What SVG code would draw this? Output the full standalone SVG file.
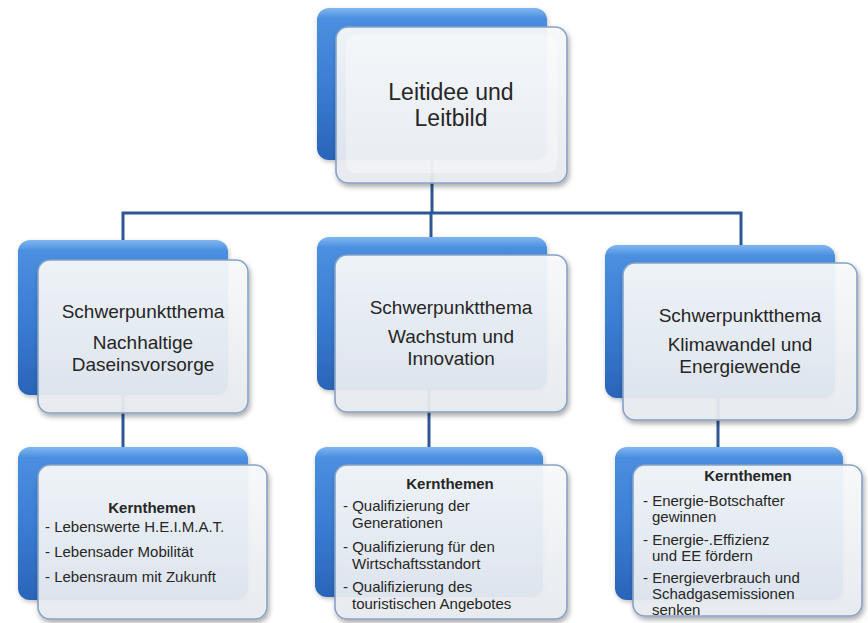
<svg xmlns="http://www.w3.org/2000/svg" width="868" height="623" viewBox="0 0 868 623">
<defs>
<linearGradient id="blue" x1="0" y1="0" x2="0" y2="1">
<stop offset="0" stop-color="#7fb6f0"/>
<stop offset="0.07" stop-color="#4b8fe0"/>
<stop offset="0.5" stop-color="#3a7ed4"/>
<stop offset="1" stop-color="#2a64b8"/>
</linearGradient>
<linearGradient id="white" x1="0" y1="0" x2="0" y2="1">
<stop offset="0" stop-color="#fafbfc"/>
<stop offset="1" stop-color="#e8ecf1"/>
</linearGradient>
<filter id="sh" x="-10%" y="-10%" width="125%" height="125%">
<feDropShadow dx="1.5" dy="3" stdDeviation="2.5" flood-color="#000" flood-opacity="0.35"/>
</filter>
<filter id="sh2" x="-10%" y="-10%" width="125%" height="125%">
<feDropShadow dx="1" dy="2" stdDeviation="2" flood-color="#000" flood-opacity="0.25"/>
</filter>
</defs>
<style>
.back{fill:url(#blue);filter:url(#sh2);}
.front{fill:url(#white);fill-opacity:0.92;stroke:#87a2c6;stroke-width:1.6;filter:url(#sh);}
.inner{fill:#ffffff;fill-opacity:0.35;}
.conn{fill:none;stroke:#2f5794;stroke-width:3;}
text{font-family:"Liberation Sans",Arial,sans-serif;fill:#262626;}
.t1{font-size:23px;text-anchor:middle;}
.t2{font-size:19px;text-anchor:middle;}
.kh{font-size:15px;font-weight:bold;text-anchor:middle;}
.li{font-size:15px;}
</style>
<rect width="868" height="623" fill="#ffffff"/>
<g id="connectors">
<path class="conn" d="M432 160 V213"/>
<path class="conn" d="M123 240 V213 H741 V245"/>
<path class="conn" d="M431 213 V237"/>
<path class="conn" d="M123 395 V447"/>
<path class="conn" d="M429 390 V447"/>
<path class="conn" d="M718 398 V447"/>
</g>
<g id="leitidee">
<rect class="back" x="317" y="8" width="230" height="152" rx="12"/>
<rect class="front" x="336" y="27" width="231" height="156" rx="12"/>
<rect class="inner" x="346" y="35" width="211" height="138" rx="10"/>
<text class="t1" x="451" y="100">Leitidee und</text>
<text class="t1" x="451" y="126">Leitbild</text>
</g>
<g id="schwerpunkt1">
<rect class="back" x="18" y="240" width="210" height="155" rx="12"/>
<rect class="front" x="38" y="260" width="210" height="153" rx="12"/>
<text class="t2" x="143" y="318">Schwerpunktthema</text>
<text class="t2" x="143" y="349">Nachhaltige</text>
<text class="t2" x="143" y="371">Daseinsvorsorge</text>
</g>
<g id="schwerpunkt2">
<rect class="back" x="317" y="237" width="230" height="153" rx="12"/>
<rect class="front" x="335" y="255" width="232" height="157" rx="12"/>
<text class="t2" x="451" y="314">Schwerpunktthema</text>
<text class="t2" x="451" y="343">Wachstum und</text>
<text class="t2" x="451" y="365">Innovation</text>
</g>
<g id="schwerpunkt3">
<rect class="back" x="605" y="245" width="230" height="153" rx="12"/>
<rect class="front" x="623" y="263" width="234" height="157" rx="12"/>
<text class="t2" x="740" y="322">Schwerpunktthema</text>
<text class="t2" x="740" y="351">Klimawandel und</text>
<text class="t2" x="740" y="373">Energiewende</text>
</g>
<g id="kern1">
<rect class="back" x="18" y="447" width="230" height="153" rx="12"/>
<rect class="front" x="38" y="465" width="229" height="154" rx="12"/>
<text class="kh" x="152" y="513">Kernthemen</text>
<text class="li" x="45" y="532">- Lebenswerte H.E.I.M.A.T.</text>
<text class="li" x="45" y="557">- Lebensader Mobilität</text>
<text class="li" x="45" y="582">- Lebensraum mit Zukunft</text>
</g>
<g id="kern2">
<rect class="back" x="315" y="447" width="228" height="150" rx="12"/>
<rect class="front" x="335" y="465" width="232" height="154" rx="12"/>
<text class="kh" x="450" y="489">Kernthemen</text>
<text class="li" x="343" y="511">- Qualifizierung der</text>
<text class="li" x="352" y="528">Generationen</text>
<text class="li" x="343" y="552">- Qualifizierung für den</text>
<text class="li" x="352" y="569">Wirtschaftsstandort</text>
<text class="li" x="343" y="592">- Qualifizierung des</text>
<text class="li" x="352" y="609">touristischen Angebotes</text>
</g>
<g id="kern3">
<rect class="back" x="615" y="447" width="228" height="153" rx="12"/>
<rect class="front" x="633" y="465" width="229" height="151" rx="12"/>
<text class="kh" x="748" y="481">Kernthemen</text>
<text class="li" x="643" y="506">- Energie-Botschafter</text>
<text class="li" x="652" y="522">gewinnen</text>
<text class="li" x="643" y="545">- Energie-.Effizienz</text>
<text class="li" x="652" y="561">und EE fördern</text>
<text class="li" x="643" y="583">- Energieverbrauch und</text>
<text class="li" x="652" y="599">Schadgasemissionen</text>
<text class="li" x="652" y="615">senken</text>
</g>
</svg>
